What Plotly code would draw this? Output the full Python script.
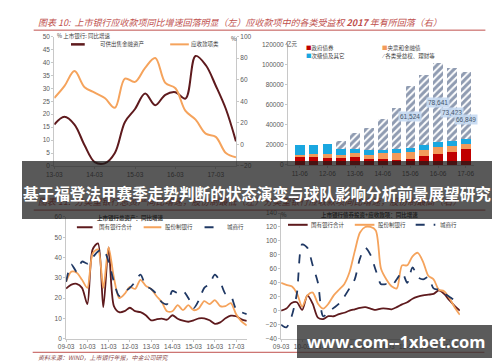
import plotly.graph_objects as go

W, H = 500, 362
def px(x): return x / W
def py(y): return 1 - y / H

# ---------------- data ----------------
# top-left: quarterly 13-03 .. 17-09
tl_ticks = ["13-03", "14-03", "15-03", "16-03", "17-03"]
tl_afs = [16, 19, 16, 8, 1.5, 1, 5, 17, 22, 28, 23.5, 27.5, 28.5, 26, 42.5, 39, 31, 22, 9.5]      # 可供出售金融资产 (left axis)
tl_recv = [43, 54, 68, 53, 48, 43, 34, 61, 58, 71, 80, 57, 52, 31, 23, 10, 7, -8, -12]          # 应收款项类 (right axis)

# top-right: semiannual stacked bars
tr_cats = ["11-06", "11-12", "12-06", "12-12", "13-06", "13-12", "14-06", "14-12",
           "15-06", "15-12", "16-06", "16-12", "17-06"]
tr_gov = [8000, 7500, 7000, 6500, 8000, 6000, 6000, 5000, 6000, 8500, 11000, 13000, 15500]      # 政府债券
tr_cbfin = [2000, 3000, 4000, 3000, 4000, 3500, 6000, 6500, 6500, 6500, 6500, 5500, 5500]       # 央票和金融债
tr_sub = [9500, 9500, 9500, 6000, 4000, 5500, 3000, 4000, 4500, 5000, 5000, 5000, 5000]         # 次级债及其它
tr_trust = [0, 0, 0, 8000, 16000, 21800, 30500, 40800, 61524, 69700, 78641, 73423, 66849]       # 各类受益权、理财等
tr_labels = {8: "61,524", 10: "78,641", 11: "73,423", 12: "66,849"}

# bottom: quarterly 09-03 .. 17-09
b_ticks = ["09-03", "10-03", "11-03", "12-03", "13-03", "14-03", "15-03", "16-03", "17-03"]
bl_soe = [24.7, 26.6, 27, 25, 17, 44, 47, 15.5, 45, 16, 13, 13.5, 15.2, 13.5, 13, 11.5, 9, 9.5,
          9.8, 9.3, 11.5, 9.8, 8.8, 8.3, 9, 10, 10, 9, 7.3, 8, 10, 11.3, 11, 9.5, 8.7]
bl_jsb = [28, 33, 32.5, 29, 25, 42, 44, 25, 45, 30, 20, 22, 25.5, 24.5, 29, 26, 24.5, 21, 18,
          13.5, 13.5, 16.5, 14, 16.5, 14, 15, 18.5, 17, 19, 16, 16, 17.5, 12, 8.5, 6.5]
bl_csh = [28, 36.5, 33, 38, 37, 40, 43, 44, 38, 28, 21, 23, 25, 28, 31.5, 26, 24.5, 22, 18, 17,
          23.5, 22.5, 23.5, 20, 15, 19, 25, 27, 31.5, 28, 22, 21, 14.5, 13, 12]

br_soe = [0, 3, 11, 12, 1, 22, 10, -10, -12, -8, -8, -5, -3, 0, 2, 4, 5, 3, 1, 3, 3, 2, 5, 9,
          12, 17, 20, 22, 23, 24, 29, 24, 15, 7, 0]
br_jsb = [40, 37, 35, 25, 6, 22, 26, 10, 3, 10, 22, 30, 38, 55, 85, 112, 120, 120, 115, 60, 45,
          35, 32, 65, 65, 78, 83, 70, 50, 45, 30, 28, 18, 5, -6]
br_csh = [-20, -24, -8, 25, 95, 90, 65, 40, -8, -2, 4, 10, 20, 32, 45, 75, 90, 80, 58, 38, 38,
          36, 45, 55, 40, 62, 48, 45, 48, 32, 30, 25, 20, 15, 13]

DARK = "#5e1a1d"
ORANGE = "#f5a35c"
NAVY = "#1f3864"
RED = "#c00000"
ORG2 = "#f39a5a"
CYAN = "#1aa7e0"
TRED = "#c0504d"

fig = go.Figure()
tq = list(range(len(tl_afs)))
fig.add_trace(go.Scatter(x=tq, y=tl_afs, mode="lines", xaxis="x", yaxis="y",
                         line=dict(color=DARK, width=2, shape="spline", smoothing=1)))
fig.add_trace(go.Scatter(x=tq, y=tl_recv, mode="lines", xaxis="x", yaxis="y2",
                         line=dict(color=ORANGE, width=2, shape="spline", smoothing=1)))

for vals, col in [(tr_gov, RED), (tr_cbfin, ORG2), (tr_sub, CYAN)]:
    fig.add_trace(go.Bar(x=tr_cats, y=vals, xaxis="x3", yaxis="y3", marker=dict(color=col, line_width=0)))
fig.add_trace(go.Bar(x=tr_cats, y=tr_trust, xaxis="x3", yaxis="y3",
                     marker=dict(color="white", line_width=0,
                                 pattern=dict(shape="/", fgcolor=NAVY, bgcolor="white", size=5, solidity=0.6))))

bq = list(range(len(bl_soe)))
for vals, col, dash, ax in [(bl_soe, DARK, "solid", "4"), (bl_jsb, ORANGE, "solid", "4"), (bl_csh, NAVY, "dash", "4"),
                            (br_soe, DARK, "solid", "5"), (br_jsb, ORANGE, "solid", "5"), (br_csh, NAVY, "dash", "5")]:
    fig.add_trace(go.Scatter(x=bq, y=vals, mode="lines", xaxis="x" + ax, yaxis="y" + ax,
                             line=dict(color=col, width=1.8, dash=dash, shape="spline", smoothing=0.8)))

tick = dict(tickfont=dict(size=6.5, color="#595959", family="Liberation Sans"), showgrid=False, zeroline=False,
            showline=True, linecolor="#c8c8c8", linewidth=1, ticks="outside", ticklen=2, tickcolor="#c8c8c8")

fig.update_layout(
    width=W, height=H, autosize=False, margin=dict(l=0, r=0, t=0, b=0),
    paper_bgcolor="white", plot_bgcolor="rgba(0,0,0,0)", showlegend=False,
    barmode="stack", bargap=0.3,
    xaxis=dict(domain=[px(39), px(224)], range=[0, 18], tickvals=[0, 4, 8, 12, 16], ticktext=tl_ticks, anchor="y", **tick),
    yaxis=dict(domain=[py(157), py(25)], range=[0, 50], dtick=5, anchor="x", **tick),
    yaxis2=dict(overlaying="y", side="right", range=[-20, 100], dtick=20, anchor="x", **tick),
    xaxis3=dict(domain=[px(277), px(466)], type="category", range=[-0.85, 12.57], tickvals=tr_cats[::2],
                ticktext=tr_cats[::2], anchor="y3", **tick),
    yaxis3=dict(domain=[py(156), py(33)], range=[0, 120000], dtick=20000, tickformat="d", anchor="x3", **tick),
    xaxis4=dict(domain=[px(51), px(235)], range=[0, 34], tickvals=list(range(0, 33, 4)), ticktext=b_ticks, anchor="y4", **tick),
    yaxis4=dict(domain=[py(333), py(209)], range=[0, 60], dtick=10, anchor="x4", **tick),
    xaxis5=dict(domain=[px(270), px(452)], range=[0, 34], tickvals=list(range(0, 33, 4)), ticktext=b_ticks, anchor="y5", **tick),
    yaxis5=dict(domain=[py(333), py(205)], range=[-40, 140], dtick=20, anchor="x5", **tick),
)

shapes = []
def hline(x0, x1, y, color, width=1, dash="solid"):
    shapes.append(dict(type="line", xref="paper", yref="paper", x0=px(x0), x1=px(x1), y0=py(y), y1=py(y),
                       line=dict(color=color, width=width, dash=dash)))
hline(18, 478, 18.5, TRED, 1)
hline(18, 478, 202, TRED, 1)
hline(17, 477, 347, TRED, 1)
# legend swatches
hline(56, 70, 33, DARK, 2.5)
hline(157, 176, 33, ORANGE, 2)
hline(62, 78, 219.5, DARK, 2)
hline(130, 148, 219.5, ORANGE, 2)
hline(192, 210, 219.5, NAVY, 2, "dash")
hline(277, 297, 217, DARK, 2)
hline(345, 365, 217, ORANGE, 2)
hline(407, 427, 217, NAVY, 2, "dash")
fig.update_layout(shapes=shapes)

ann = []
def txt(x, y, s, size=6, color="#404040", anchor="left", **kw):
    ann.append(dict(x=px(x), y=py(y), xref="paper", yref="paper", text=s, showarrow=False,
                    xanchor=anchor, yanchor="middle", font=dict(size=size, color=color, family="Noto Sans CJK SC"), **kw))

txt(20, 11, "<i>图表 10:  上市银行应收款项同比增速回落明显（左）应收款项中的各类受益权 <b>2017</b> 年有所回落（右）</i>", 9, TRED)
txt(20, 193, "<i>图表 11:  分类型银行总资产同比增速，股份制最低（左）分类型银行应收款项同比增速，股份制最高（右）</i>", 9, TRED)
txt(40, 24, "% 上市银行: 同比增速", 5.5)
txt(222, 27, "%", 6, anchor="center")
txt(83, 33, "可供出售金融资产", 5.5)
txt(176, 33, "应收款项类", 5.5)
txt(273, 33, "亿元", 5.5)
txt(293, 37, f'<span style="color:{RED}">■</span>政府债券', 5.5)
txt(371, 37, f'<span style="color:{ORG2}">■</span>央票和金融债', 5.5)
txt(293, 45, f'<span style="color:{CYAN}">■</span>次级债及其它', 5.5)
txt(371, 45, f'<span style="color:{NAVY}">⁄</span> 各类受益权、理财等', 5.5)
txt(117, 210, "<b>上市银行总资产：同比增速</b>", 5.5, anchor="center")
txt(82, 219.5, "国有银行合计", 5.5)
txt(150, 219.5, "股份制银行", 5.5)
txt(213, 219.5, "城商行", 5.5)
txt(273, 207, "%", 6, anchor="center")
txt(360, 207, "<b>上市银行债券投资+应收款项：同比增速</b>", 5.5, anchor="center")
txt(298, 217, "国有银行合计", 5.5)
txt(367, 217, "股份制银行", 5.5)
txt(430, 217, "城商行", 5.5)
txt(20, 352, "<i>资料来源：WIND，上市银行年报，中金公司研究</i>", 6, "#8b4a4a")

label_y = {8: 47800, 10: 62400, 11: 52700, 12: 44900}
for i, s in tr_labels.items():
    ann.append(dict(x=tr_cats[i], y=label_y[i], xref="x3", yref="y3", text=s, showarrow=False,
                    font=dict(size=6.5, color="#44546a", family="Liberation Sans"),
                    bgcolor="rgba(197,217,241,0.9)", borderpad=1))

# overlay band and watermark (drawn as boxes above everything)
def box(x0, x1, y0, y1, color):
    ann.append(dict(x=px((x0 + x1) / 2), y=py((y0 + y1) / 2), xref="paper", yref="paper", text=" ",
                    showarrow=False, xanchor="center", yanchor="middle", width=x1 - x0, height=y1 - y0,
                    bgcolor=color, borderpad=0, borderwidth=0))
box(10, 488, 152, 210, "rgba(25,25,25,0.72)")
box(488, 492, 152, 210, "#111111")
ann.append(dict(x=px(5), y=py(185), xref="paper", yref="paper", showarrow=False, xanchor="left", yanchor="middle",
                text="<b>基于福登法甲赛季走势判断的状态演变与球队影响分析前景展望研究</b>",
                font=dict(size=15.6, color="white", family="Noto Sans CJK SC")))
box(288, 488, 319, 352, "rgba(45,45,45,0.78)")
box(488, 492, 319, 352, "#111111")
ann.append(dict(x=px(294), y=py(336), xref="paper", yref="paper", showarrow=False, xanchor="left", yanchor="middle",
                text="<b>www.com--1xbet.com</b>", font=dict(size=16.5, color="white", family="Open Sans")))

fig.update_layout(annotations=ann)
fig.write_html("out.html")
